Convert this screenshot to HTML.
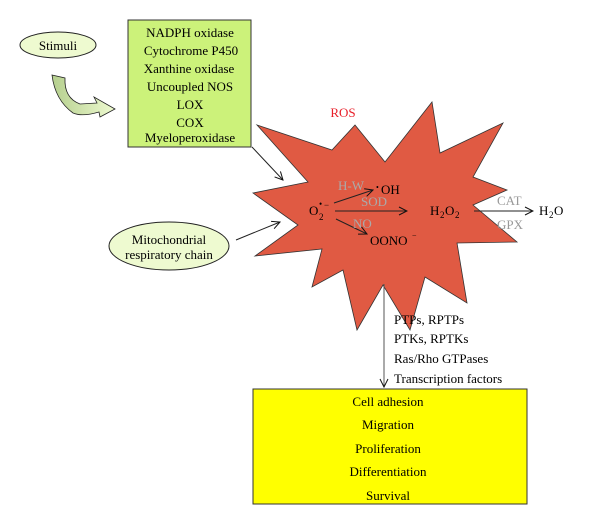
<!DOCTYPE html>
<html><head><meta charset="utf-8"><style>
html,body{margin:0;padding:0;background:#fff;}
svg{display:block;font-family:"Liberation Serif",serif;}
</style></head><body>
<svg width="600" height="525" viewBox="0 0 600 525" xmlns="http://www.w3.org/2000/svg">
<defs>
<linearGradient id="g1" x1="0" y1="0" x2="1" y2="0"><stop offset="0" stop-color="#b5cf8e"/><stop offset="1" stop-color="#eefad0"/></linearGradient>
<marker id="ah" markerWidth="10" markerHeight="10" refX="9" refY="5" orient="auto" markerUnits="userSpaceOnUse"><path d="M1,1 L9,5 L1,9" fill="none" stroke="#111" stroke-width="1"/></marker>
</defs>
<ellipse cx="58" cy="45" rx="38" ry="13" fill="#eefad0" stroke="#222" stroke-width="1"/>
<text x="58" y="50" font-size="13" text-anchor="middle">Stimuli</text>
<path d="M52,75 L65,78 Q64,98 80,104 L97,103 L94,97 L115,109 L100,117 L99,112 Q82,117 73,113 Q55,100 52,75 Z" fill="url(#g1)" stroke="#222" stroke-width="0.8"/>
<rect x="128" y="20" width="123" height="127" fill="#ccf27a" stroke="#333" stroke-width="1"/>
<g font-size="13" text-anchor="middle">
<text x="190" y="37">NADPH oxidase</text>
<text x="191" y="55">Cytochrome P450</text>
<text x="189" y="73">Xanthine oxidase</text>
<text x="190" y="91">Uncoupled NOS</text>
<text x="190" y="109">LOX</text>
<text x="190" y="127">COX</text>
<text x="190" y="142">Myeloperoxidase</text>
</g>
<polygon points="257,125 332,150 355,125 385,162 432,102 440,153 503,123 473,177 507,190 473,205 517,242 457,243 467,303 425,277 410,330 383,285 357,330 343,270 312,287 322,249 255,256 298,225 253,193 308,182" fill="#e05a43" stroke="#333" stroke-width="0.8"/>
<text x="343" y="117" font-size="13" fill="#e8202a" text-anchor="middle">ROS</text>
<line x1="252" y1="147" x2="283" y2="180" stroke="#222" stroke-width="1" marker-end="url(#ah)"/>
<line x1="236" y1="240" x2="280" y2="222" stroke="#222" stroke-width="1" marker-end="url(#ah)"/>
<ellipse cx="169" cy="246" rx="60" ry="24" fill="#eefad0" stroke="#222" stroke-width="1"/>
<text x="169" y="244" font-size="13" text-anchor="middle">Mitochondrial</text>
<text x="169" y="259" font-size="13" text-anchor="middle">respiratory chain</text>
<text x="309" y="215" font-size="13">O</text><text x="319" y="220" font-size="9">2</text><text x="319" y="207" font-size="9">•</text><text x="324" y="208" font-size="9">−</text>
<line x1="334" y1="203" x2="373" y2="190" stroke="#222" stroke-width="1" marker-end="url(#ah)"/>
<line x1="335" y1="211" x2="407" y2="211" stroke="#222" stroke-width="1" marker-end="url(#ah)"/>
<line x1="336" y1="219" x2="367" y2="234" stroke="#222" stroke-width="1" marker-end="url(#ah)"/>
<text x="338" y="190" font-size="13" fill="#aaa">H-W</text>
<text x="361" y="206" font-size="13" fill="#aaa">SOD</text>
<text x="353" y="228" font-size="13" fill="#aaa">NO</text>
<text x="376" y="190" font-size="8">•</text><text x="381" y="194" font-size="13">OH</text>
<text x="370" y="245" font-size="13">OONO</text><text x="412" y="238" font-size="8">−</text>
<text x="430" y="215" font-size="13">H</text><text x="440" y="218" font-size="9">2</text><text x="445" y="215" font-size="13">O</text><text x="455" y="218" font-size="9">2</text>
<line x1="474" y1="211" x2="533" y2="211" stroke="#222" stroke-width="1" marker-end="url(#ah)"/>
<text x="497" y="205" font-size="13" fill="#999">CAT</text>
<text x="497" y="229" font-size="13" fill="#999">GPX</text>
<text x="539" y="215" font-size="13">H</text><text x="549" y="218" font-size="9">2</text><text x="554" y="215" font-size="13">O</text>
<line x1="384" y1="284" x2="384" y2="387" stroke="#555" stroke-width="1" marker-end="url(#ah)"/>
<g font-size="13">
<text x="394" y="324">PTPs, RPTPs</text>
<text x="394" y="343">PTKs, RPTKs</text>
<text x="394" y="363">Ras/Rho GTPases</text>
<text x="394" y="383">Transcription factors</text>
</g>
<rect x="253" y="389" width="274" height="115" fill="#ffff00" stroke="#333" stroke-width="1"/>
<g font-size="13" text-anchor="middle">
<text x="388" y="406">Cell adhesion</text>
<text x="388" y="429">Migration</text>
<text x="388" y="453">Proliferation</text>
<text x="388" y="476">Differentiation</text>
<text x="388" y="500">Survival</text>
</g>
</svg>
</body></html>
